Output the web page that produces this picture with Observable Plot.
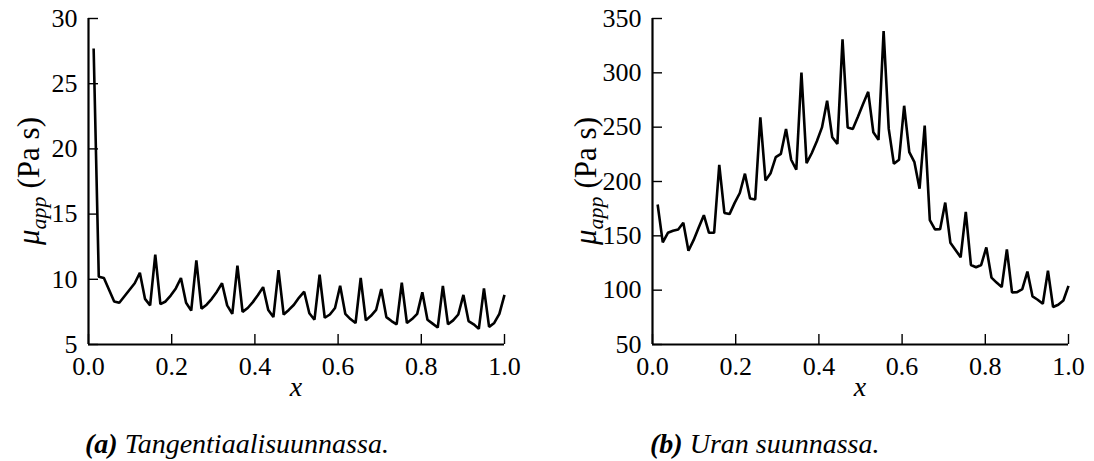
<!DOCTYPE html>
<html>
<head>
<meta charset="utf-8">
<script src="https://cdn.jsdelivr.net/npm/d3@7"></script>
<script src="https://cdn.jsdelivr.net/npm/@observablehq/plot@0.6"></script>
<style>
  body { margin: 0; background: #fff; }
  #wrap { position: relative; width: 1094px; height: 461px; overflow: hidden; background: #fff; }
  #wrap svg { position: absolute; top: 0; }
  .cap { position: absolute; top: 430px; font-family: 'Liberation Serif', serif; font-style: italic; font-size: 28px; line-height: 28px; white-space: nowrap; color: #000; }
  .cap b { font-weight: bold; }
</style>
</head>
<body>
<div id="wrap"></div>
<script>
// ---- data ----
const nPoints = 81; // uniform grid x = i/81, i = 1..81
const xTicks = [0, 0.2, 0.4, 0.6, 0.8, 1.0];
const yTicksA = [5, 10, 15, 20, 25, 30];
const yTicksB = [50, 100, 150, 200, 250, 300, 350];

// (a) Tangentiaalisuunnassa
const muTangential = [
  27.7, 10.2, 10.1, 9.2, 8.3, 8.2, 8.7, 9.2, 9.7, 10.5,
  8.5, 8.0, 11.9, 8.1, 8.3, 8.75, 9.3, 10.1, 8.2, 7.6,
  11.45, 7.75, 8.05, 8.5, 9.05, 9.7, 8.0, 7.35, 11.05, 7.5,
  7.8, 8.25, 8.8, 9.4, 7.65, 7.1, 10.7, 7.3, 7.65, 8.05,
  8.6, 9.05, 7.4, 6.9, 10.35, 7.05, 7.3, 7.8, 9.5, 7.35,
  6.95, 6.65, 10.1, 6.85, 7.2, 7.65, 9.25, 7.1, 6.8, 6.55,
  9.75, 6.65, 6.95, 7.35, 9.0, 6.9, 6.6, 6.3, 9.5, 6.55,
  6.85, 7.3, 8.8, 6.8, 6.55, 6.2, 9.3, 6.35, 6.65, 7.35,
  8.8
];

// (b) Uran suunnassa
const muGroove = [
  178.8, 144, 152.8, 154.7, 155.9, 162, 136.3, 146, 157.7, 169,
  152.8, 152.8, 215.4, 171.1, 170, 180.3, 189.4, 207.2, 184.3, 183.4,
  259, 201, 207.7, 222.4, 225.5, 248.4, 220, 210.8, 300.2, 216.9,
  226, 237, 249.8, 274.3, 240.7, 234.6, 330.8, 249.8, 248.4, 259.6,
  271.3, 282.5, 245.3, 238.3, 338.4, 248.4, 216.3, 220, 269.7, 227,
  217.8, 193.4, 251.4, 164.4, 155.9, 156, 180.6, 143.7, 137, 130.3,
  172, 123.2, 121.1, 123.2, 139.4, 111.6, 107, 102.8, 137.6, 97.9,
  98.2, 101, 117.1, 94.2, 91.2, 87.5, 118, 84.5, 86.6, 90.5,
  104
];

const FONT = "'Liberation Serif', serif";

function panel(values, yDomain, yTicks, opts) {
  const data = values.map((v, i) => ({x: (i + 1) / nPoints, y: v}));
  const W = opts.width, H = 410;
  const mt = 18, mb = 66;
  const innerW = W - opts.marginLeft - opts.marginRight;
  const innerH = H - mt - mb;
  const svg = Plot.plot({
    width: W,
    height: H,
    marginLeft: opts.marginLeft,
    marginRight: opts.marginRight,
    marginTop: mt,
    marginBottom: mb,
    style: {fontFamily: FONT, fontSize: "26px", background: "transparent", color: "#000", overflow: "visible"},
    x: {domain: [0, 1], ticks: xTicks, tickFormat: d3.format(".1f"), tickSize: 0, tickPadding: 12, label: null},
    y: {domain: yDomain, ticks: yTicks, tickFormat: d3.format("d"), tickSize: 0, tickPadding: 11, label: null},
    marks: [
      Plot.tickY(yTicks, {y: d => d, stroke: "#000", strokeWidth: 1.4, insetRight: innerW - 10}),
      Plot.tickX(xTicks, {x: d => d, stroke: "#000", strokeWidth: 1.4, insetTop: innerH - 10}),
      Plot.ruleX([0], {stroke: "#000", strokeWidth: 2.2}),
      Plot.ruleY([yDomain[0]], {stroke: "#000", strokeWidth: 2.2}),
      Plot.line(data, {x: "x", y: "y", stroke: "#000", strokeWidth: 2.6, strokeLinejoin: "miter", strokeLinecap: "butt"})
    ]
  });
  const s = d3.select(svg);
  // y label: mu_app (Pa s)
  const cy = mt + innerH / 2;
  const t = s.append("text")
    .attr("transform", `translate(${opts.yLabelX},${cy}) rotate(-90)`)
    .attr("text-anchor", "middle")
    .attr("font-family", FONT)
    .attr("font-size", 31)
    .attr("fill", "#000");
  t.append("tspan").attr("font-style", "italic").text("μ");
  t.append("tspan").attr("font-style", "italic").attr("font-size", 22).attr("dy", 7).text("app");
  t.append("tspan").attr("dy", -7).attr("dx", 8).text("(Pa s)");
  // x label
  s.append("text")
    .attr("x", opts.marginLeft + innerW / 2)
    .attr("y", 396)
    .attr("text-anchor", "middle")
    .attr("font-family", FONT)
    .attr("font-style", "italic")
    .attr("font-size", 28)
    .attr("fill", "#000")
    .text("x");
  return svg;
}

const wrap = document.getElementById("wrap");
const svgA = panel(muTangential, [5, 30], yTicksA, {width: 547, marginLeft: 88, marginRight: 43, yLabelX: 39});
svgA.style.left = "0px";
wrap.appendChild(svgA);
const svgB = panel(muGroove, [50, 350], yTicksB, {width: 547, marginLeft: 105, marginRight: 26, yLabelX: 49});
svgB.style.left = "547px";
wrap.appendChild(svgB);

const capA = document.createElement("div");
capA.className = "cap";
capA.style.left = "85px";
capA.innerHTML = "<b>(a)</b> Tangentiaalisuunnassa.";
wrap.appendChild(capA);
const capB = document.createElement("div");
capB.className = "cap";
capB.style.left = "650px";
capB.innerHTML = "<b>(b)</b> Uran suunnassa.";
wrap.appendChild(capB);
</script>
</body>
</html>
